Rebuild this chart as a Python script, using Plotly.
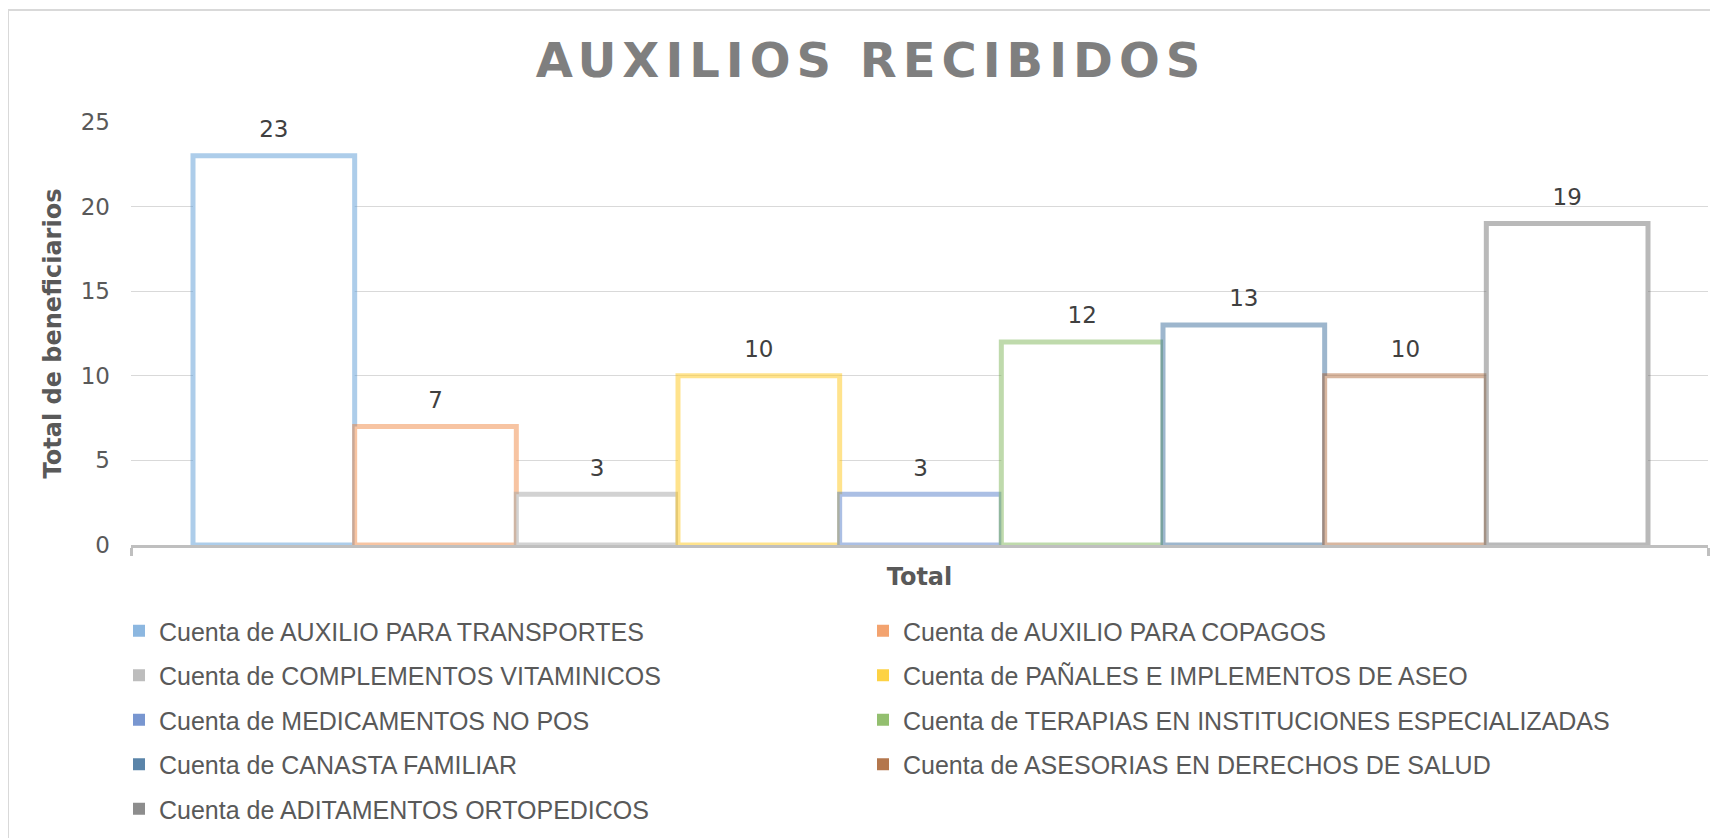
import plotly.graph_objects as go

# ---- data ----
series_names = [
    "Cuenta de AUXILIO PARA TRANSPORTES",
    "Cuenta de AUXILIO PARA COPAGOS",
    "Cuenta de COMPLEMENTOS VITAMINICOS",
    "Cuenta de PAÑALES E IMPLEMENTOS DE ASEO",
    "Cuenta de MEDICAMENTOS NO POS",
    "Cuenta de TERAPIAS EN INSTITUCIONES ESPECIALIZADAS",
    "Cuenta de CANASTA FAMILIAR",
    "Cuenta de ASESORIAS EN DERECHOS DE SALUD",
    "Cuenta de ADITAMENTOS ORTOPEDICOS",
]
values = [23, 7, 3, 10, 3, 12, 13, 10, 19]
category = "Total"
y_ticks = [0, 5, 10, 15, 20, 25]

# ---- style ----
edge_colors = ["rgba(91,155,213,0.50)", "rgba(237,125,49,0.45)", "rgba(165,165,165,0.50)",
               "rgba(255,192,0,0.45)", "rgba(68,114,196,0.45)", "rgba(112,173,71,0.45)",
               "rgba(37,94,145,0.45)", "rgba(158,72,14,0.40)", "rgba(99,99,99,0.45)"]
legend_colors = ["#8cb7e0", "#f3a36f", "#bdbdbd", "#fdd244", "#7896d0",
                 "#93bf6f", "#5a84a9", "#b4774d", "#8d8d8d"]

OFF = 8                     # default page (body) margin in the browser
PW, PH = 1718, 838          # page size
W, H = PW - OFF, PH - OFF   # figure size
plot_left, plot_right, plot_top, plot_bottom = 131, 1708, 122, 545   # page pixels
L = plot_left - OFF
R = W - (plot_right - OFF)
T = plot_top - OFF
B = H - (plot_bottom - OFF)
plot_w = W - L - R
plot_h = H - T - B
bar_left_px, bar_right_px = 193, 1648
slot = (bar_right_px - bar_left_px) / len(values)
x0 = -0.5 - (bar_left_px - plot_left) / slot
x1 = len(values) - 0.5 + (plot_right - bar_right_px) / slot


def px_x(p):
    return (p - plot_left) / plot_w


def px_y(p):
    return (plot_bottom - p) / plot_h


def cont_y(p):
    return 1 - (p - OFF) / H


fig = go.Figure()
xs = list(range(len(values)))
for i, (name, v) in enumerate(zip(series_names, values)):
    fig.add_trace(go.Bar(
        x=[i], y=[v], width=1, name=name, showlegend=False,
        marker=dict(color="white", line=dict(color=edge_colors[i], width=5)),
        hovertemplate=category + "<br>" + name + ": %{y}<extra></extra>",
    ))

# data labels
fig.add_trace(go.Scatter(
    x=xs, y=values, mode="markers+text", text=[str(v) for v in values],
    textposition="top center", marker=dict(size=19, opacity=0), cliponaxis=False,
    textfont=dict(family="DejaVu Sans", size=23, color="#404040"),
    showlegend=False, hoverinfo="skip",
))

# legend entries
for i, name in enumerate(series_names):
    fig.add_trace(go.Scatter(
        x=[None], y=[None], mode="markers", name=name,
        marker=dict(symbol="square", size=12, color=legend_colors[i]),
        legend="legend" if i % 2 == 0 else "legend2", legendgroup=name,
    ))

legend_font = dict(family="Liberation Sans, Arial", size=25, color="#595959")
common_legend = dict(orientation="v", yanchor="top", xanchor="left", yref="container",
                     bgcolor="rgba(0,0,0,0)", font=legend_font, tracegroupgap=9,
                     traceorder="grouped", itemclick=False, itemdoubleclick=False)

fig.update_layout(
    width=W, height=H, autosize=False,
    margin=dict(l=L, r=R, t=T, b=B, pad=0),
    paper_bgcolor="white", plot_bgcolor="white",
    title=dict(text="<span style='letter-spacing:6px'>AUXILIOS RECIBIDOS</span>",
               x=(871 - OFF) / W, xref="container", xanchor="center",
               y=cont_y(60), yref="container", yanchor="middle",
               font=dict(family="DejaVu Sans", size=48, color="#7f7f7f", weight="bold")),
    xaxis=dict(range=[x0, x1], showline=True, linecolor="#bfbfbf", linewidth=3,
               ticks="outside", tickvals=[x0 + 1e-6, x1 - 1e-6], ticklen=8, tickwidth=3,
               tickcolor="#bfbfbf", showticklabels=False, showgrid=False, zeroline=False,
               title=dict(text=category, standoff=14,
                          font=dict(family="DejaVu Sans", size=24, color="#595959", weight="bold"))),
    yaxis=dict(range=[0, 25], tickvals=y_ticks, showgrid=True, gridcolor="#d9d9d9", gridwidth=1.3,
               zeroline=False, ticks="", ticklabelstandoff=20,
               tickfont=dict(family="DejaVu Sans", size=23, color="#595959"),
               title=dict(text="Total de beneficiarios", standoff=12,
                          font=dict(family="DejaVu Sans", size=24, color="#595959", weight="bold"))),
    legend=dict(x=px_x(119), y=cont_y(608), **common_legend),
    legend2=dict(x=px_x(863), y=cont_y(608), **common_legend),
    shapes=[dict(type="rect", xref="paper", yref="paper",
                 x0=px_x(8), x1=px_x(PW + 20), y0=px_y(PH + 20), y1=px_y(10),
                 line=dict(color="#d9d9d9", width=2), fillcolor="rgba(0,0,0,0)", layer="below")],
    hovermode="closest",
)

fig.write_html("out.html")
